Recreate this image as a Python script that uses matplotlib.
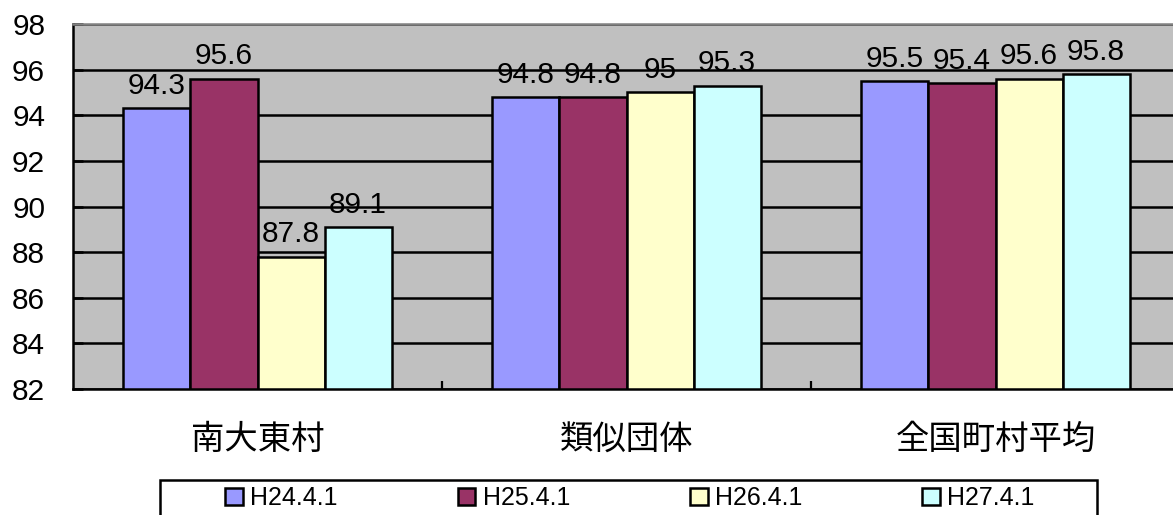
import numpy as np
import matplotlib.pyplot as plt
from matplotlib.patches import Rectangle

# chart data
categories = ['南大東村', '類似団体', '全国町村平均']
series_names = ['H24.4.1', 'H25.4.1', 'H26.4.1', 'H27.4.1']
h24 = [94.3, 94.8, 95.5]
h25 = [95.6, 94.8, 95.4]
h26 = [87.8, 95.0, 95.6]
h27 = [89.1, 95.3, 95.8]
y_ticks = [82, 84, 86, 88, 90, 92, 94, 96, 98]

colors = ['#9999FF', '#993366', '#FFFFCC', '#CCFFFF']

plt.rcParams['font.family'] = ['Liberation Sans', 'Noto Sans CJK JP', 'DejaVu Sans']

fig = plt.figure(figsize=(11.73, 5.15), dpi=100)
ax = fig.add_axes([73 / 1173, 1 - 389 / 515, 1107 / 1173, 365 / 515])
ax.set_facecolor('#C0C0C0')

x = np.arange(len(categories))
width = 0.1816
all_series = [h24, h25, h26, h27]
for i, vals in enumerate(all_series):
    pos = x + (i - 1.5) * width
    ax.bar(pos, np.array(vals) - 82, width, bottom=82, color=colors[i],
           edgecolor='black', linewidth=1.8, label=series_names[i], zorder=3)
    for p, v in zip(pos, vals):
        ax.annotate(f'{v:g}', (p, v), xytext=(0, 6), textcoords='offset points',
                    ha='center', va='bottom', fontsize=21.5, zorder=4)

ax.set_ylim(82, 98)
ax.set_xlim(-0.5, 2.5)
ax.set_yticks(y_ticks)
ax.yaxis.grid(True, color='black', linewidth=1.8)
ax.set_axisbelow(True)
ax.tick_params(axis='y', direction='in', length=7, width=1.8, labelsize=21.5, pad=20)

ax.set_xticks(x)
ax.set_xticklabels(categories, fontsize=24, family=['Noto Sans CJK JP', 'DejaVu Sans'])
ax.tick_params(axis='x', length=0, pad=24)
ax.set_xticks([0.5, 1.5], minor=True)
ax.tick_params(axis='x', which='minor', direction='in', length=6, width=1.6)

ax.spines['left'].set_linewidth(1.8)
ax.spines['bottom'].set_linewidth(1.8)
ax.spines['top'].set_color('#808080')
ax.spines['top'].set_linewidth(1.8)
ax.spines['right'].set_visible(False)

# legend with a separate frame
fig.patches.append(Rectangle((160 / 1173, -0.05), 937 / 1173, 1.05 - 480 / 515,
                             transform=fig.transFigure, fill=False,
                             edgecolor='black', linewidth=1.8))
fig.legend(loc='center', bbox_to_anchor=(630 / 1173, 1 - 498 / 515), ncol=4,
           frameon=False, fontsize=18, handlelength=0.7, handleheight=0.7,
           handletextpad=0.3, columnspacing=4.8)

fig.savefig('out.png', dpi=100)
